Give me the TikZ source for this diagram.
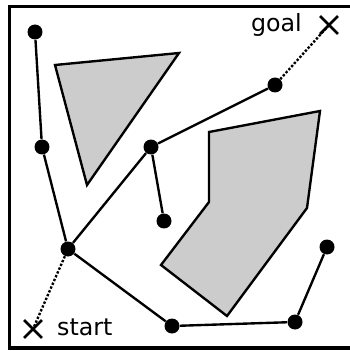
\documentclass[tikz,border=0pt]{standalone}
\usepackage{fontspec}
\setmainfont{DejaVu Sans}
\usetikzlibrary{shapes.misc}
\begin{document}
\begin{tikzpicture}[x=0.02cm,y=-0.02cm,
    pt/.style={circle,fill=black,inner sep=0pt,minimum size=0.3cm},
    edge/.style={line width=1.35pt},
    obst/.style={draw,line width=1.35pt,fill=gray!40,line join=miter},
    goalx/.style={cross out,draw,line width=1.6pt,inner sep=0pt,minimum size=0.3cm},
    lbl/.style={font=\fontsize{13.5}{16}\selectfont}]
  \useasboundingbox (0,0) rectangle (349,351);
  % marco
  \draw[line width=2.2pt] (9.5,6.5) rectangle (355,348);
  % obstaculos
  \draw[obst] (55,65) -- (179,53) -- (87,185) -- cycle;
  \draw[obst] (209,132) -- (320,111) -- (307,208) -- (227,316) -- (161,265) -- (209,202) -- cycle;
  % nodos del arbol
  \node[pt] (A) at (35,32) {};
  \node[pt] (B) at (42,147) {};
  \node[pt] (C) at (151,147) {};
  \node[pt] (D) at (275,85) {};
  \node[pt] (E) at (164,221) {};
  \node[pt] (F) at (68,249) {};
  \node[pt] (G) at (172,326) {};
  \node[pt] (H) at (295,322) {};
  \node[pt] (I) at (327,247) {};
  \node[goalx] (start) at (33,329) {};
  \node[goalx] (goal) at (329,25) {};
  \node[lbl,anchor=base west] (startlbl) at (51,335) {start};
  \node[lbl,anchor=base east] (goallbl) at (308,32) {goal};
  % aristas
  \foreach \a/\b in {A/B,B/F,F/C,C/D,C/E,F/G,G/H,H/I}{ \draw[edge] (\a) -- (\b); }
  \draw[edge,densely dotted] (F) -- (start.center);
  \draw[edge,densely dotted] (D) -- (goal.center);
\end{tikzpicture}
\end{document}
